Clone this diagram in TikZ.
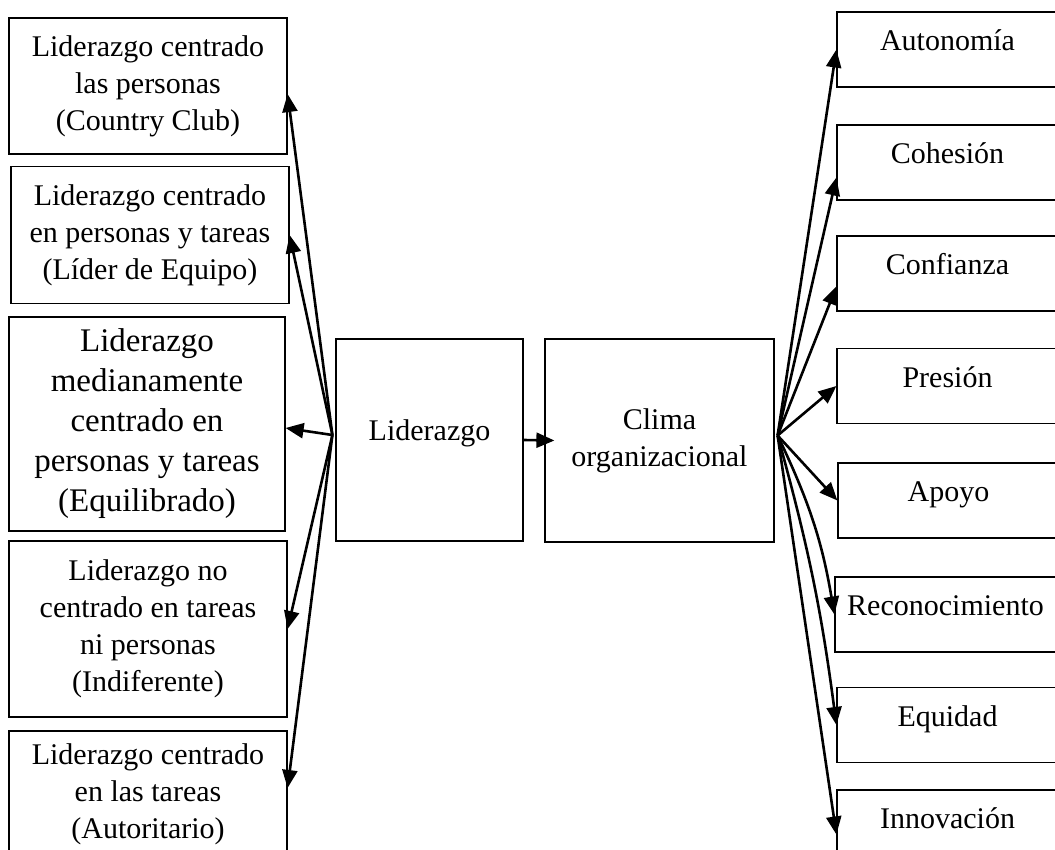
\documentclass[tikz,border=0pt]{standalone}
\usepackage{fontspec}
\setmainfont{Liberation Serif}
\usetikzlibrary{arrows.meta,shapes,positioning}

\begin{document}
\begin{tikzpicture}[x=0.5pt, y=-0.5pt,
  box/.style={rectangle, draw, line width=0.6pt, inner sep=2pt, font=\fontsize{15}{18.5}\selectfont},
  estilo/.style={box, align=center, minimum width=139pt},
  dimension/.style={box, minimum width=110.5pt, minimum height=37.5pt, text height=10pt, text depth=9pt},
  arr/.style={-{Triangle[length=9pt,width=7.5pt]}, line width=1.3pt}]
  \clip (0,0) rectangle (1055,850);

  % estilos de liderazgo
  \node (cclub) [estilo, minimum height=68pt] at (148,86) {Liderazgo centrado\\las personas\\(Country Club)};
  \node (lequipo) [estilo, minimum height=68.5pt] at (150,235) {Liderazgo centrado\\en personas y tareas\\(Líder de Equipo)};
  \node (equilib) [estilo, minimum width=138pt, minimum height=107pt, font=\fontsize{16.5}{20}\selectfont] at (147,424) {Liderazgo\\medianamente\\centrado en\\personas y tareas\\(Equilibrado)};
  \node (indif) [estilo, minimum height=88pt] at (148,629) {Liderazgo no\\centrado en tareas\\ni personas\\(Indiferente)};
  \node (autorit) [estilo, minimum height=63pt] at (148,794) {Liderazgo centrado\\en las tareas\\(Autoritario)};

  \node (lider) [box, text height=10pt, text depth=10pt, minimum width=93.5pt, minimum height=101pt] at (429.5,440) {Liderazgo};
  \node (clima) [box, align=center, minimum width=114.5pt, minimum height=101.5pt] at (659.5,440.5) {Clima\\organizacional};

  % dimensiones del clima
  \node (autonomia) [dimension] at (947.5,49.5) {Autonomía};
  \node (cohesion) [dimension] at (947.5,162.5) {Cohesión};
  \node (confianza) [dimension] at (947.5,273.5) {Confianza};
  \node (presion) [dimension] at (947.5,386) {Presión};
  \node (apoyo) [dimension] at (948.5,500.5) {Apoyo};
  \node (reconoc) [dimension] at (945.5,614.5) {Reconocimiento};
  \node (equidad) [dimension] at (947.5,725) {Equidad};
  \node (innova) [dimension] at (947.5,827.5) {Innovación};

  \coordinate (lsrc) at ([shift={(-3,-5)}]lider.west);
  \coordinate (rsrc) at ([shift={(3,-5)}]clima.east);

  \draw [arr] (lsrc) -- ([yshift=-4pt]cclub.east);
  \draw [arr] (lsrc) -- (lequipo.east);
  \draw [arr] (lsrc) -- ([yshift=-2pt]equilib.east);
  \draw [arr] (lsrc) -- (indif.east);
  \draw [arr] (lsrc) -- ([yshift=3pt]autorit.east);
  \draw [arr] (lider.east) -- ([xshift=5pt]clima.west);

  \draw [arr] (rsrc) -- (autonomia.west);
  \draw [arr] (rsrc) -- ([yshift=-7.5pt]cohesion.west);
  \draw [arr] (rsrc) -- ([yshift=-6.5pt]confianza.west);
  \draw [arr] (rsrc) -- (presion.west);
  \draw [arr] (rsrc) -- (apoyo.west);
  \draw [arr] (rsrc) to[bend left=8] (reconoc.west);
  \draw [arr] (rsrc) to[bend left=4] (equidad.west);
  \draw [arr] (rsrc) -- ([yshift=-3.5pt]innova.west);
\end{tikzpicture}
\end{document}
